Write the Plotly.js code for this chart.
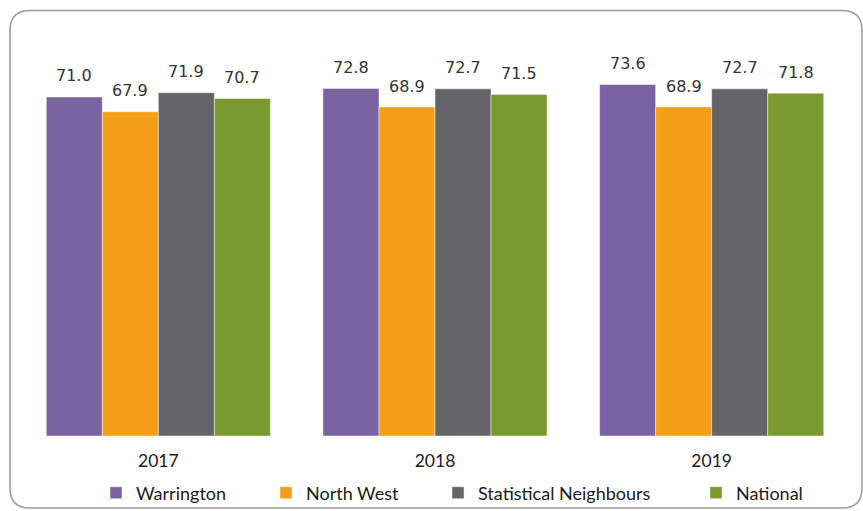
<!DOCTYPE html>
<html>
<head>
<meta charset="utf-8">
<script src="https://cdn.plot.ly/plotly-3.0.1.min.js"></script>
<style>
  html, body { margin: 0; padding: 0; background: #ffffff; }
  #chart { width: 863px; height: 511px; }
</style>
</head>
<body>
<div id="chart"></div>
<script>
// ---- data ----
const years = ['2017', '2018', '2019'];
const seriesNames = ['Warrington', 'North West', 'Statistical Neighbours', 'National'];
const warrington = [71.0, 72.8, 73.6];
const northWest = [67.9, 68.9, 68.9];
const statNeighbours = [71.9, 72.7, 72.7];
const national = [70.7, 71.5, 71.8];
const seriesColors = ['#7863A0', '#F59E19', '#656469', '#789A2E'];

const allValues = [warrington, northWest, statNeighbours, national];

// ---- geometry (pixels) ----
const W = 863, H = 511;
const M = { l: 20, r: 13, t: 54, b: 75, autoexpand: false };
const plotW = W - M.l - M.r, plotH = H - M.t - M.b;
const px2x = p => (p - M.l) / plotW;
const px2y = p => (H - M.b - p) / plotH;

const bargap = 0.19;
const catPx = plotW / years.length;
const barPx = catPx * (1 - bargap) / seriesNames.length;

const legendIds = ['legend', 'legend2', 'legend3', 'legend4'];
const legendX = [96, 266, 438, 696];

const traces = allValues.map((vals, i) => ({
  type: 'bar',
  name: seriesNames[i],
  x: years,
  y: vals,
  marker: { color: seriesColors[i], line: { color: 'rgba(255,255,255,0.45)', width: 1 } },
  legend: legendIds[i],
  hoverinfo: 'none'
}));

const annotations = [];
allValues.forEach((vals, i) => {
  vals.forEach((v, j) => {
    annotations.push({
      x: j, y: v, xref: 'x', yref: 'y',
      text: v.toFixed(1),
      showarrow: false,
      xshift: (i - (seriesNames.length - 1) / 2) * barPx,
      yanchor: 'middle',
      yshift: 21,
      font: { family: 'DejaVu Sans, Verdana, sans-serif', size: 16, color: '#333333' }
    });
  });
});

// rounded border
const bx0 = 10, by0 = 10.5, bx1 = 862, by1 = 508, rr = 20;
const path =
  'M' + px2x(bx0 + rr) + ',' + px2y(by0) +
  ' L' + px2x(bx1 - rr) + ',' + px2y(by0) +
  ' Q' + px2x(bx1) + ',' + px2y(by0) + ' ' + px2x(bx1) + ',' + px2y(by0 + rr) +
  ' L' + px2x(bx1) + ',' + px2y(by1 - rr) +
  ' Q' + px2x(bx1) + ',' + px2y(by1) + ' ' + px2x(bx1 - rr) + ',' + px2y(by1) +
  ' L' + px2x(bx0 + rr) + ',' + px2y(by1) +
  ' Q' + px2x(bx0) + ',' + px2y(by1) + ' ' + px2x(bx0) + ',' + px2y(by1 - rr) +
  ' L' + px2x(bx0) + ',' + px2y(by0 + rr) +
  ' Q' + px2x(bx0) + ',' + px2y(by0) + ' ' + px2x(bx0 + rr) + ',' + px2y(by0) + ' Z';

const legendFont = { family: 'Lato, Liberation Sans, sans-serif', size: 18, color: '#1a1a1a' };
const layout = {
  width: W, height: H,
  margin: M,
  paper_bgcolor: '#ffffff',
  plot_bgcolor: 'rgba(0,0,0,0)',
  barmode: 'group',
  bargap: bargap,
  bargroupgap: 0,
  showlegend: true,
  xaxis: {
    type: 'category', range: [-0.5, years.length - 0.5], autorange: false,
    showgrid: false, zeroline: false, showline: false, automargin: false,
    ticks: '', ticklabelstandoff: 12,
    tickfont: { family: 'Lato, Liberation Sans, sans-serif', size: 17.5, color: '#1a1a1a' }
  },
  yaxis: {
    range: [0, 80], autorange: false, visible: false, showgrid: false, zeroline: false
  },
  annotations: annotations,
  shapes: [{
    type: 'path', xref: 'paper', yref: 'paper', path: path,
    line: { color: '#9a9a9a', width: 1.5 }, fillcolor: 'rgba(0,0,0,0)', layer: 'below'
  }]
};
legendIds.forEach((id, i) => {
  layout[id] = {
    orientation: 'h', x: px2x(legendX[i]), xanchor: 'left',
    y: px2y(493), yanchor: 'middle',
    font: legendFont, bgcolor: 'rgba(0,0,0,0)', borderwidth: 0
  };
});

Plotly.newPlot('chart', traces, layout, { staticPlot: true, displayModeBar: false });
</script>
</body>
</html>
